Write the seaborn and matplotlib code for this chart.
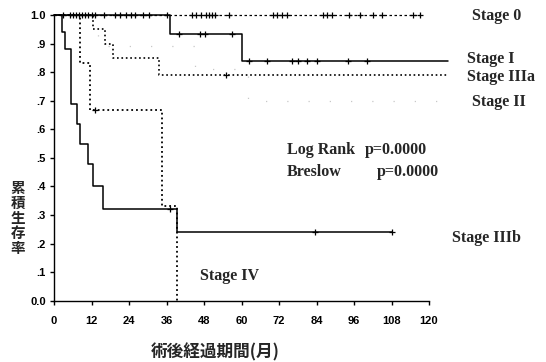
import numpy as np
import pandas as pd
import matplotlib
matplotlib.use("Agg")
import matplotlib.pyplot as plt
import seaborn as sns

# ---- data ----
stage0_times = [0, 117]
stage0_surv = [1.0, 1.0]
stage0_cens = [3, 5, 6, 7, 8, 9, 10, 11, 12, 13, 16, 19.5, 21, 23, 24.5, 26, 28.5, 30.5, 36,
               44, 45.5, 47, 48.5, 49.5, 50.5, 51.5, 56, 70, 71.5, 73, 74.5, 86, 87.5, 89,
               94.5, 98, 102, 105, 115, 117]

stage1_times = [0, 37, 60, 126]
stage1_surv = [1.0, 0.935, 0.84, 0.84]
stage1_cens_t = [40, 46.7, 48.3, 57, 62.4, 68, 76, 78, 81, 84, 94, 100]
stage1_cens_s = [0.935, 0.935, 0.935, 0.935, 0.84, 0.84, 0.84, 0.84, 0.84, 0.84, 0.84, 0.84]

stage3a_times = [0, 12.5, 16.3, 18.9, 33.5, 126]
stage3a_surv = [1.0, 0.95, 0.90, 0.85, 0.79, 0.79]
stage3a_cens_t = [55]
stage3a_cens_s = [0.79]

stage2_times = [0, 14, 45, 62, 126]
stage2_surv = [1.0, 0.89, 0.81, 0.70, 0.70]

stage3b_times = [0, 2.5, 3.5, 5.4, 7.5, 8.3, 11, 12.4, 15.6, 39.4, 108]
stage3b_surv = [1.0, 0.94, 0.88, 0.69, 0.62, 0.55, 0.48, 0.40, 0.32, 0.24, 0.24]
stage3b_cens_t = [37, 83.5, 108]
stage3b_cens_s = [0.32, 0.24, 0.24]

stage4_times = [0, 8.3, 11.5, 34.5, 39.4, 39.4]
stage4_surv = [1.0, 0.833, 0.667, 0.333, 0.0, 0.0]
stage4_cens_t = [13]
stage4_cens_s = [0.667]

x_ticks = [0, 12, 24, 36, 48, 60, 72, 84, 96, 108, 120]
y_ticks = [0.0, 0.1, 0.2, 0.3, 0.4, 0.5, 0.6, 0.7, 0.8, 0.9, 1.0]
y_ticklabels = ["0.0", ".1", ".2", ".3", ".4", ".5", ".6", ".7", ".8", ".9", "1.0"]

stage_labels = ["Stage 0", "Stage I", "Stage IIIa", "Stage II", "Stage IIIb", "Stage IV"]

# ---- figure ----
sns.set_style("ticks")
W, H = 546, 362
fig = plt.figure(figsize=(W / 100, H / 100), dpi=100)
ax = fig.add_axes([54 / W, 1 - 300.7 / H, (429 - 54) / W, (300.7 - 15) / H])


def curve(times, surv, ls, lw=1.1, color="black"):
    df = pd.DataFrame({"t": times, "s": surv})
    sns.lineplot(data=df, x="t", y="s", ax=ax, estimator=None, sort=False,
                 drawstyle="steps-post", color=color, linestyle=ls, linewidth=lw,
                 clip_on=False)


def marks(t, s):
    df = pd.DataFrame({"t": t, "s": s})
    sns.scatterplot(data=df, x="t", y="s", ax=ax, marker="+", s=22, linewidth=0.9,
                    color="black", clip_on=False, zorder=5)


curve(stage2_times, stage2_surv, (0, (1, 16)), lw=0.9, color="#c8c8c8")
curve(stage3a_times, stage3a_surv, ":", lw=1.2)
curve(stage4_times, stage4_surv, ":", lw=1.3)
curve(stage3b_times, stage3b_surv, "-", lw=1.1)
curve(stage1_times, stage1_surv, "-", lw=1.1)
curve(stage0_times, stage0_surv, (0, (2, 2)), lw=0.9)

marks(stage0_cens, [1.0] * len(stage0_cens))
marks(stage1_cens_t, stage1_cens_s)
marks(stage3a_cens_t, stage3a_cens_s)
marks(stage3b_cens_t, stage3b_cens_s)
marks(stage4_cens_t, stage4_cens_s)

ax.set_xlim(0, 120)
ax.set_ylim(0, 1.0)
ax.set_xticks(x_ticks)
ax.set_xticklabels([str(v) for v in x_ticks])
ax.set_yticks(y_ticks)
ax.set_yticklabels(y_ticklabels)
ax.tick_params(axis="both", direction="out", length=3, width=1, labelsize=8, colors="black")
ax.tick_params(axis="x", pad=8)
ax.tick_params(axis="y", pad=3)
for lab in ax.get_xticklabels() + ax.get_yticklabels():
    lab.set_fontweight("bold")
    lab.set_family("Liberation Sans")
for side in ["top", "right"]:
    ax.spines[side].set_visible(False)
for side in ["left", "bottom"]:
    ax.spines[side].set_linewidth(1.0)
    ax.spines[side].set_color("black")
ax.set_xlabel("")
ax.set_ylabel("")


def ftext(px, py, s, **kw):
    fig.text(px / W, 1 - py / H, s, **kw)


serif = dict(family="Liberation Serif", fontweight="bold", fontsize=11.5, va="center", ha="left")
ftext(472, 16, stage_labels[0], **serif)
ftext(467, 59, stage_labels[1], **serif)
ftext(467, 77, stage_labels[2], **serif)
ftext(472, 102, stage_labels[3], **serif)
ftext(452, 238, stage_labels[4], **serif)
ftext(200, 276, stage_labels[5], **serif)

ftext(287, 150, "Log Rank", **serif)
ftext(365, 150, "p=0.0000", **serif)
ftext(287, 172, "Breslow", **serif)
ftext(377, 172, "p=0.0000", **serif)

cjk = ["Noto Sans CJK JP", "DejaVu Sans"]
ftext(18, 218, "累\n積\n生\n存\n率", family=cjk, fontweight="bold", fontsize=10.5,
      ha="center", va="center", linespacing=0.92)
ftext(215, 352, "術後経過期間(月)", family=cjk, fontweight="bold", fontsize=12,
      ha="center", va="center")

fig.savefig("out.png", dpi=100, facecolor="white")
